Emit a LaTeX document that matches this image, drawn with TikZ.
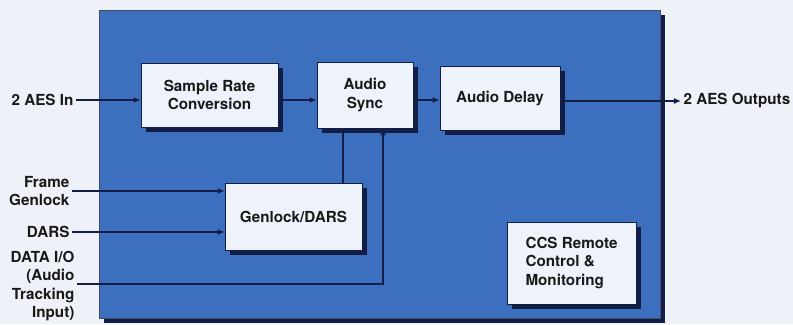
\documentclass[tikz,border=0pt]{standalone}
\usepackage{fontspec}
\setmainfont{TeX Gyre Heros}
\usetikzlibrary{arrows.meta, positioning, shadows}
\definecolor{pagebg}{RGB}{238,241,248}
\definecolor{panelblue}{RGB}{60,112,190}
\definecolor{boxfill}{RGB}{238,243,251}
\definecolor{navy}{RGB}{18,30,70}

\begin{document}
\begin{tikzpicture}[x=0.03cm, y=-0.03cm, >={Latex[length=6pt,width=5pt]},
    font=\bfseries\fontsize{13}{15.5}\selectfont, text=black!90,
    wire/.style={draw=navy, line width=1pt},
    panel/.style={draw=navy!80, fill=panelblue, line width=0.6pt, inner sep=0pt,
      drop shadow={shadow xshift=4pt, shadow yshift=-4pt, fill=navy, opacity=1}},
    block/.style={draw=navy, fill=boxfill, line width=0.6pt, inner sep=0pt, align=center,
      drop shadow={shadow xshift=4pt, shadow yshift=-4pt, fill=navy, opacity=1}},
    lbl/.style={inner sep=2pt, align=right}]
  \fill[pagebg] (0,0) rectangle (793,324);
  \useasboundingbox (0,0) rectangle (793,324);

  \node[panel, minimum width=16.83cm, minimum height=9.24cm] (unit) at (379.5,164.5) {};

  \node[block, minimum width=4.11cm, minimum height=1.92cm] (src) at (209.5,95) {Sample Rate\\Conversion};
  \node[block, minimum width=2.88cm, minimum height=1.98cm] (sync) at (365,95) {Audio\\Sync};
  \node[block, minimum width=3.6cm, minimum height=1.92cm] (delay) at (500,98) {Audio Delay};
  \node[block, minimum width=4.11cm, minimum height=2.01cm] (genlock) at (293.5,217) {Genlock/DARS};
  \node[block, align=left, minimum width=3.87cm, minimum height=2.46cm] (ccs) at (571.5,263) {CCS Remote\\Control \&\\Monitoring};

  \node[lbl, anchor=east] (ain) at (76,100) {2 AES In};
  \node[lbl, anchor=west] (aout) at (681,101) {2 AES Outputs};
  \node[lbl, anchor=east] (frame) at (72,191) {Frame\\Genlock};
  \node[lbl, anchor=east] (dars) at (72,232) {DARS};
  \node[lbl, anchor=east] (data) at (77,286) {DATA I/O\\(Audio\\Tracking\\Input)};

  \draw[wire, ->] (ain.east) -- (ain.east -| src.west);
  \draw[wire, ->] (src.east |- ain.east) -- (sync.west |- ain.east);
  \draw[wire, ->] (sync.east |- ain.east) -- (delay.west |- ain.east);
  \draw[wire, ->] (delay.east |- aout.west) -- (aout.west);
  \draw[wire, ->] (frame.east) -- (frame.east -| genlock.west);
  \draw[wire, ->] (dars.east) -- (dars.east -| genlock.west);
  \draw[wire] ([xshift=-0.66cm]sync.south) coordinate (gs) -- (gs |- genlock.north);
  \draw[wire, ->] ([yshift=0.06cm]data.east) -| ([xshift=0.54cm]sync.south);
\end{tikzpicture}
\end{document}
